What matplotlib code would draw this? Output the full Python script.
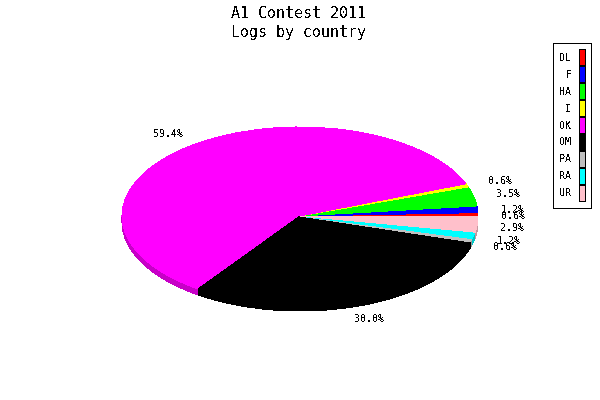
import matplotlib
matplotlib.use("Agg")
import matplotlib.pyplot as plt
from matplotlib.patches import Patch
from matplotlib.colors import to_rgb

countries = ["DL", "F", "HA", "I", "OK", "OM", "PA", "RA", "UR"]
shares = [0.6, 1.2, 3.5, 0.6, 59.4, 30.0, 0.6, 1.2, 2.9]
colors = ["#ff0000", "#0000ff", "#00ff00", "#ffff00", "#ff00ff",
          "#000000", "#c0c0c0", "#00ffff", "#ffc0cb"]
title_lines = ["A1 Contest 2011", "Logs by country"]

plt.rcParams["font.family"] = "DejaVu Sans Mono"
plt.rcParams["text.antialiased"] = False
plt.rcParams["patch.antialiased"] = False

W, H = 600, 400
fig = plt.figure(figsize=(W / 100, H / 100), dpi=100)

# the pie is a squashed circle, so the axes is twice as wide as high
cx, cy, rx, ry = 300, 216, 178, 89
ax = fig.add_axes([(cx - rx) / W, 1 - (cy + ry) / H, 2 * rx / W, 2 * ry / H])

# darker copies underneath give the rim
dark = [tuple(c * 0.78 for c in to_rgb(col)) for col in colors]
for i in range(6, 0, -1):
    ax.pie(shares, colors=dark, startangle=0, counterclock=True,
           center=(0, -i / ry), radius=1)
wedges, texts, pct = ax.pie(shares, colors=colors, startangle=0, counterclock=True,
                            autopct="%.1f%%", pctdistance=1.2,
                            textprops={"fontsize": 7.2})
for t in pct:
    x, y = t.get_position()
    t.set_position((x, y - 2 / ry))
ax.set_aspect("auto")
ax.set_xlim(-1, 1)
ax.set_ylim(-1, 1)
for p in ax.patches:
    p.set_clip_on(False)

fig.text(298.5 / W, 1 - 14 / H, title_lines[0], ha="center", va="center", fontsize=10.8)
fig.text(298.5 / W, 1 - 33 / H, title_lines[1], ha="center", va="center", fontsize=10.8)

handles = [Patch(facecolor=c, edgecolor="black", linewidth=0.72, joinstyle="miter")
           for c in colors]
leg = fig.legend(handles, countries, loc="upper right",
                 bbox_to_anchor=(591 / W, 1 - 43 / H),
                 markerfirst=False, fancybox=False, framealpha=1,
                 edgecolor="black", fontsize=7.2, ncol=1,
                 handlelength=0.6, handleheight=2.08, handletextpad=0.7,
                 labelspacing=0.1, borderpad=0.65, borderaxespad=0)
leg.get_frame().set_linewidth(0.72)

fig.savefig("out.png", dpi=100)
